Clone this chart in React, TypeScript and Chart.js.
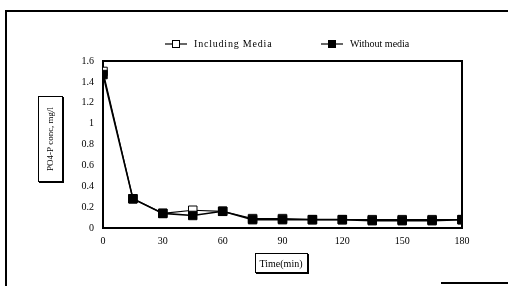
import React, { useEffect, useRef } from "react";
import { Chart, registerables } from "chart.js";

Chart.register(...registerables);

const timeMin = [0, 15, 30, 45, 60, 75, 90, 105, 120, 135, 150, 165, 180];
const includingMedia = [1.5, 0.28, 0.14, 0.17, 0.16, 0.09, 0.09, 0.08, 0.08, 0.08, 0.08, 0.08, 0.08];
const withoutMedia = [1.47, 0.28, 0.14, 0.12, 0.16, 0.08, 0.08, 0.08, 0.08, 0.07, 0.07, 0.07, 0.08];
const seriesLabels = ["Including Media", "Without media"];
const xTitle = "Time(min)";
const yTitle = "PO4-P conc, mg/l";

const FONT = "'Liberation Serif', 'DejaVu Serif', serif";

const decorPlugin = {
  id: "decor",
  afterDraw(chart: any) {
    const ctx = chart.ctx as CanvasRenderingContext2D;
    const a = chart.chartArea;
    ctx.save();
    ctx.strokeStyle = "#000";
    ctx.lineWidth = 2;
    ctx.beginPath();
    ctx.moveTo(a.left, a.top);
    ctx.lineTo(a.right, a.top);
    ctx.lineTo(a.right, a.bottom);
    ctx.stroke();
    // outer frame
    ctx.beginPath();
    ctx.moveTo(6, 286);
    ctx.lineTo(6, 11);
    ctx.lineTo(508, 11);
    ctx.stroke();
    ctx.beginPath();
    ctx.moveTo(441, 283);
    ctx.lineTo(508, 283);
    ctx.stroke();

    // legend
    ctx.font = `10px ${FONT}`;
    ctx.textBaseline = "middle";
    ctx.fillStyle = "#000";
    const ly = 44;
    const items = [
      { x: 165, fill: "#fff", label: chart.data.datasets[0].label, sp: "0.8px" },
      { x: 321, fill: "#000", label: chart.data.datasets[1].label, sp: "0px" },
    ];
    items.forEach((it) => {
      ctx.lineWidth = 1.2;
      ctx.beginPath();
      ctx.moveTo(it.x, ly);
      ctx.lineTo(it.x + 22, ly);
      ctx.stroke();
      ctx.fillStyle = it.fill;
      ctx.fillRect(it.x + 7, ly - 4, 8, 8);
      ctx.lineWidth = 1;
      ctx.strokeRect(it.x + 7.5, ly - 3.5, 7, 7);
      ctx.fillStyle = "#000";
      ctx.textAlign = "left";
      (ctx as any).letterSpacing = it.sp;
      ctx.fillText(it.label, it.x + 29, ly);
    });
    (ctx as any).letterSpacing = "0px";

    // y title box
    ctx.lineWidth = 1;
    ctx.strokeRect(38.5, 96.5, 24, 85);
    ctx.lineWidth = 2;
    ctx.beginPath();
    ctx.moveTo(63, 97);
    ctx.lineTo(63, 182);
    ctx.lineTo(39, 182);
    ctx.stroke();
    ctx.save();
    ctx.translate(51, 139);
    ctx.rotate(-Math.PI / 2);
    ctx.textAlign = "center";
    ctx.font = `9px ${FONT}`;
    ctx.fillText(yTitle, 0, 0);
    ctx.restore();

    // x title box
    ctx.lineWidth = 1;
    ctx.strokeRect(255.5, 253.5, 52, 19);
    ctx.lineWidth = 2;
    ctx.beginPath();
    ctx.moveTo(308, 254);
    ctx.lineTo(308, 273);
    ctx.lineTo(256, 273);
    ctx.stroke();
    ctx.textAlign = "center";
    ctx.font = `10px ${FONT}`;
    ctx.fillText(xTitle, 281, 264);
    ctx.restore();
  },
};

export default function App() {
  const ref = useRef<HTMLCanvasElement | null>(null);
  useEffect(() => {
    if (!ref.current) return;
    const mk = (vals: number[]) => vals.map((v, i) => ({ x: timeMin[i], y: v }));
    const chart = new Chart(ref.current, {
      type: "line",
      data: {
        datasets: [
          {
            label: seriesLabels[0],
            data: mk(includingMedia),
            order: 1,
            borderColor: "#000",
            backgroundColor: "#fff",
            borderWidth: 1.2,
            pointStyle: "rect",
            pointRadius: 6,
            pointBorderWidth: 1,
            pointBorderColor: "#000",
            pointBackgroundColor: "#fff",
          },
          {
            label: seriesLabels[1],
            data: mk(withoutMedia),
            order: 0,
            borderColor: "#000",
            backgroundColor: "#000",
            borderWidth: 1.6,
            pointStyle: "rect",
            pointRadius: 6,
            pointBorderWidth: 1,
            pointBorderColor: "#000",
            pointBackgroundColor: "#000",
          },
        ],
      },
      options: {
        responsive: false,
        animation: false,
        layout: { padding: { left: 43, right: 46, top: 61, bottom: 28 } },
        plugins: { legend: { display: false }, tooltip: { enabled: false } },
        scales: {
          x: {
            type: "linear",
            min: 0,
            max: 180,
            afterFit: (s: any) => { s.height = 30; },
            ticks: { stepSize: 30, color: "#000", font: { family: FONT, size: 10 }, padding: 4 },
            grid: { display: false, drawTicks: true, tickLength: 3, color: "#000" },
            border: { display: true, color: "#000", width: 2 },
          },
          y: {
            min: 0,
            max: 1.6,
            afterFit: (s: any) => { s.width = 60; },
            ticks: {
              stepSize: 0.2,
              color: "#000",
              font: { family: FONT, size: 10 },
              padding: 6,
              callback: (v: any) => String(+Number(v).toFixed(1)),
            },
            grid: { display: false, drawTicks: true, tickLength: 3, color: "#000" },
            border: { display: true, color: "#000", width: 2 },
          },
        },
      },
      plugins: [decorPlugin],
    });
    return () => chart.destroy();
  }, []);
  return (
    <div style={{ position: "absolute", left: 0, top: 0, width: 508, height: 286, background: "#fff" }}>
      <canvas ref={ref} width={508} height={286} style={{ display: "block" }} />
    </div>
  );
}
